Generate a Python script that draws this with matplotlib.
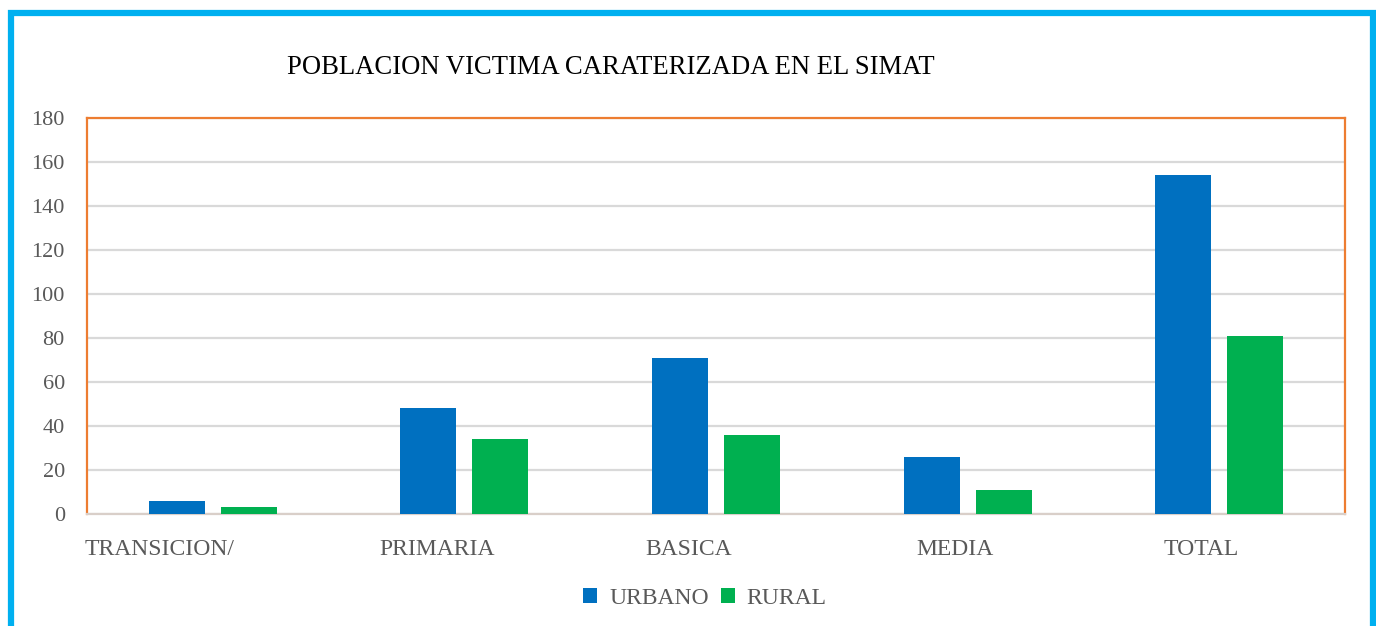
import matplotlib.pyplot as plt
import matplotlib.patches as mpatches
import matplotlib.transforms as mtransforms
import numpy as np

categorias = ['TRANSICION/', 'PRIMARIA', 'BASICA', 'MEDIA', 'TOTAL']
urbano = [6, 48, 71, 26, 154]
rural = [3, 34, 36, 11, 81]
y_ticks = list(range(0, 181, 20))

plt.rcParams['font.family'] = ['Liberation Serif', 'DejaVu Serif']

fig = plt.figure(figsize=(13.76, 6.26), dpi=100)

# marco exterior celeste
fig.patches.append(mpatches.Rectangle((11 / 1376, -0.1), (1373 - 11) / 1376, 1 - 13 / 626 + 0.1,
                                      transform=fig.transFigure, fill=False,
                                      edgecolor='#00B0F0', linewidth=4.5))

ax = fig.add_axes([87 / 1376, 112 / 626, 1258 / 1376, 396 / 626])

x = np.arange(len(categorias))
ancho = 0.2226
ax.bar(x - 0.143, urbano, ancho, color='#0070C0', label='URBANO', zorder=3)
ax.bar(x + 0.143, rural, ancho, color='#00B050', label='RURAL', zorder=3)

ax.set_xlim(-0.5, len(categorias) - 0.5)
ax.set_ylim(0, 180)
ax.set_yticks(y_ticks)
ax.set_xticks(x, labels=categorias)
ax.grid(axis='y', color='#D9D9D9', linewidth=1.6, zorder=0)
ax.tick_params(axis='both', length=0, labelcolor='#595959')
ax.tick_params(axis='y', pad=16, labelsize=16)
ax.tick_params(axis='x', pad=18, labelsize=17)

# las etiquetas del eje x quedan algo corridas a la izquierda en el original
corrimientos = [-53, -27, -27, -13, -18]
for lbl, dx in zip(ax.get_xticklabels(), corrimientos):
    lbl.set_transform(lbl.get_transform() + mtransforms.ScaledTranslation(dx / 100, 0, fig.dpi_scale_trans))

for lado in ['left', 'right', 'top']:
    ax.spines[lado].set_color('#ED7D31')
    ax.spines[lado].set_linewidth(1.6)
ax.spines['bottom'].set_color('#D9CFC9')
ax.spines['bottom'].set_linewidth(1.6)

fig.text(611 / 1376, 1 - 68 / 626, 'POBLACION VICTIMA CARATERIZADA EN EL SIMAT',
         ha='center', va='center', fontsize=19.2, color='black')

fig.legend(loc='center', bbox_to_anchor=(705 / 1376, 1 - 598 / 626), ncol=2,
           frameon=False, fontsize=17, labelcolor='#595959',
           handlelength=0.6, handleheight=0.6, handletextpad=0.5, columnspacing=0.5)

fig.savefig('out.png', dpi=100)
